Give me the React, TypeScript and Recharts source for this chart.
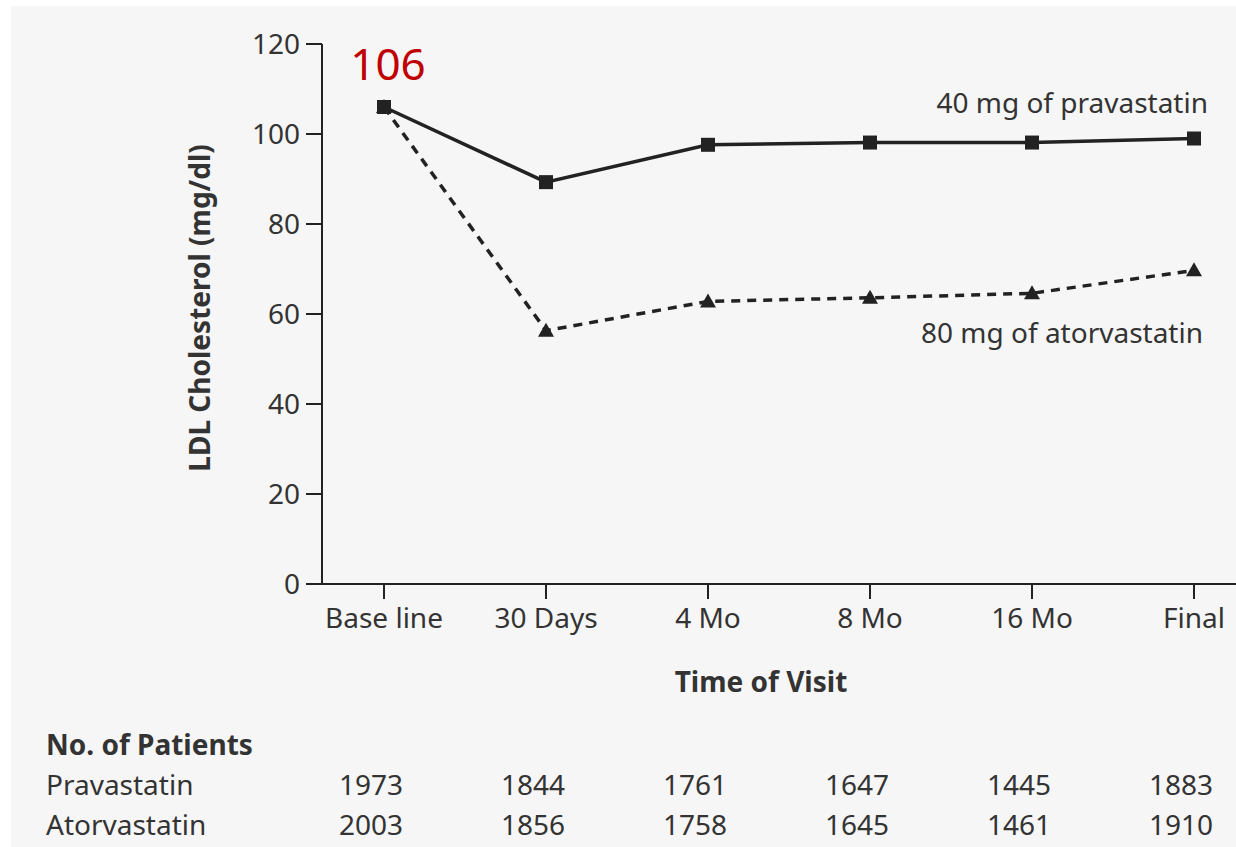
import React from 'react';
import { LineChart, Line, XAxis, YAxis, LabelList } from 'recharts';

const categories = ['Base line', '30 Days', '4 Mo', '8 Mo', '16 Mo', 'Final'];
const pravastatin = [106, 89.3, 97.6, 98.1, 98.1, 99.0];
const atorvastatin = [106, 56.3, 62.8, 63.6, 64.6, 69.7];
const pravastatinPatients = [1973, 1844, 1761, 1647, 1445, 1883];
const atorvastatinPatients = [2003, 1856, 1758, 1645, 1461, 1910];
const yTicks = [0, 20, 40, 60, 80, 100, 120];

const data = categories.map((visit, i) => ({
  visit,
  prav: pravastatin[i],
  atorv: atorvastatin[i],
}));

const FONT = '"Noto Sans", "Open Sans", sans-serif';
const INK = '#222';
const TXT = '#333';

const SquareDot = (props: any) => {
  const { cx, cy, index } = props;
  if (cx == null || cy == null) return null;
  return <rect key={`sq-${index}`} x={cx - 7} y={cy - 7} width={14} height={14} fill={INK} />;
};

const TriangleDot = (props: any) => {
  const { cx, cy, index } = props;
  if (cx == null || cy == null) return null;
  return (
    <polygon
      key={`tr-${index}`}
      points={`${cx},${cy - 8} ${cx + 8},${cy + 6} ${cx - 8},${cy + 6}`}
      fill={INK}
    />
  );
};

const makeCountTick = (counts: number[]) => (props: any) => {
  const { x, y, index } = props;
  return (
    <text
      x={x - 13}
      y={y + 31}
      textAnchor="middle"
      fontFamily={FONT}
      fontSize={28}
      fill={TXT}
    >
      {counts[index]}
    </text>
  );
};

const PravLabel = (props: any) => {
  const { x, y, index, value } = props;
  if (index === 0) {
    return (
      <text x={x + 4} y={y - 27} textAnchor="middle" fontFamily={FONT} fontSize={44} fill="#c00000">
        {Math.round(value)}
      </text>
    );
  }
  if (index === categories.length - 1) {
    return (
      <text x={x + 14} y={y - 26} textAnchor="end" fontFamily={FONT} fontSize={28} fill={TXT}>
        40 mg of pravastatin
      </text>
    );
  }
  return null;
};

const AtorvLabel = (props: any) => {
  const { x, y, index } = props;
  if (index === categories.length - 1) {
    return (
      <text x={x + 9} y={y + 73} textAnchor="end" fontFamily={FONT} fontSize={28} fill={TXT}>
        80 mg of atorvastatin
      </text>
    );
  }
  return null;
};

export default function App() {
  return (
    <div style={{ position: 'absolute', left: 0, top: 0, width: 1236, height: 847, background: '#fff', overflow: 'hidden' }}>
      <div style={{ position: 'absolute', left: 11, top: 6, right: 0, bottom: 0, background: '#f6f6f6' }} />
      <div style={{ position: 'absolute', left: 0, top: 0 }}>
        <LineChart
          width={1236}
          height={847}
          data={data}
          margin={{ top: 44, right: 0, bottom: 3, left: 222 }}
        >
          <XAxis
            dataKey="visit"
            padding={{ left: 62, right: 42 }}
            height={180}
            tickSize={15}
            tickMargin={9}
            axisLine={{ stroke: INK, strokeWidth: 2 }}
            tickLine={{ stroke: INK, strokeWidth: 2 }}
            tick={{ fontFamily: FONT, fontSize: 28, fill: TXT }}
            interval={0}
          />
          <XAxis
            xAxisId="b_atorv"
            dataKey="visit"
            padding={{ left: 62, right: 42 }}
            height={40}
            tickSize={0}
            tickMargin={0}
            axisLine={false}
            tickLine={false}
            tick={makeCountTick(atorvastatinPatients)}
            interval={0}
          />
          <XAxis
            xAxisId="a_prav"
            dataKey="visit"
            padding={{ left: 62, right: 42 }}
            height={40}
            tickSize={0}
            tickMargin={0}
            axisLine={false}
            tickLine={false}
            tick={makeCountTick(pravastatinPatients)}
            interval={0}
          />
          <YAxis
            width={100}
            domain={[0, 120]}
            ticks={yTicks}
            tickSize={16}
            tickMargin={6}
            axisLine={{ stroke: INK, strokeWidth: 2 }}
            tickLine={{ stroke: INK, strokeWidth: 2 }}
            tick={{ fontFamily: FONT, fontSize: 28, fill: TXT }}
            interval={0}
          />
          <Line
            dataKey="atorv"
            type="linear"
            stroke={INK}
            strokeWidth={3.5}
            strokeDasharray="9 7"
            dot={TriangleDot}
            activeDot={false}
            isAnimationActive={false}
          >
            <LabelList dataKey="atorv" content={AtorvLabel} />
          </Line>
          <Line
            dataKey="prav"
            type="linear"
            stroke={INK}
            strokeWidth={3.5}
            dot={SquareDot}
            activeDot={false}
            isAnimationActive={false}
          >
            <LabelList dataKey="prav" content={PravLabel} />
          </Line>
          <text
            x={210}
            y={308}
            transform="rotate(-90 210 308)"
            textAnchor="middle"
            fontFamily={FONT}
            fontSize={28}
            fontWeight="bold"
            fill={TXT}
          >
            LDL Cholesterol (mg/dl)
          </text>
          <text x={761} y={692} textAnchor="middle" fontFamily={FONT} fontSize={28} fontWeight="bold" fill={TXT}>
            Time of Visit
          </text>
          <text x={46} y={755} fontFamily={FONT} fontSize={28} fontWeight="bold" fill={TXT}>
            No. of Patients
          </text>
          <text x={46} y={795} fontFamily={FONT} fontSize={28} fill={TXT}>
            Pravastatin
          </text>
          <text x={46} y={835} fontFamily={FONT} fontSize={28} fill={TXT}>
            Atorvastatin
          </text>
        </LineChart>
      </div>
    </div>
  );
}
